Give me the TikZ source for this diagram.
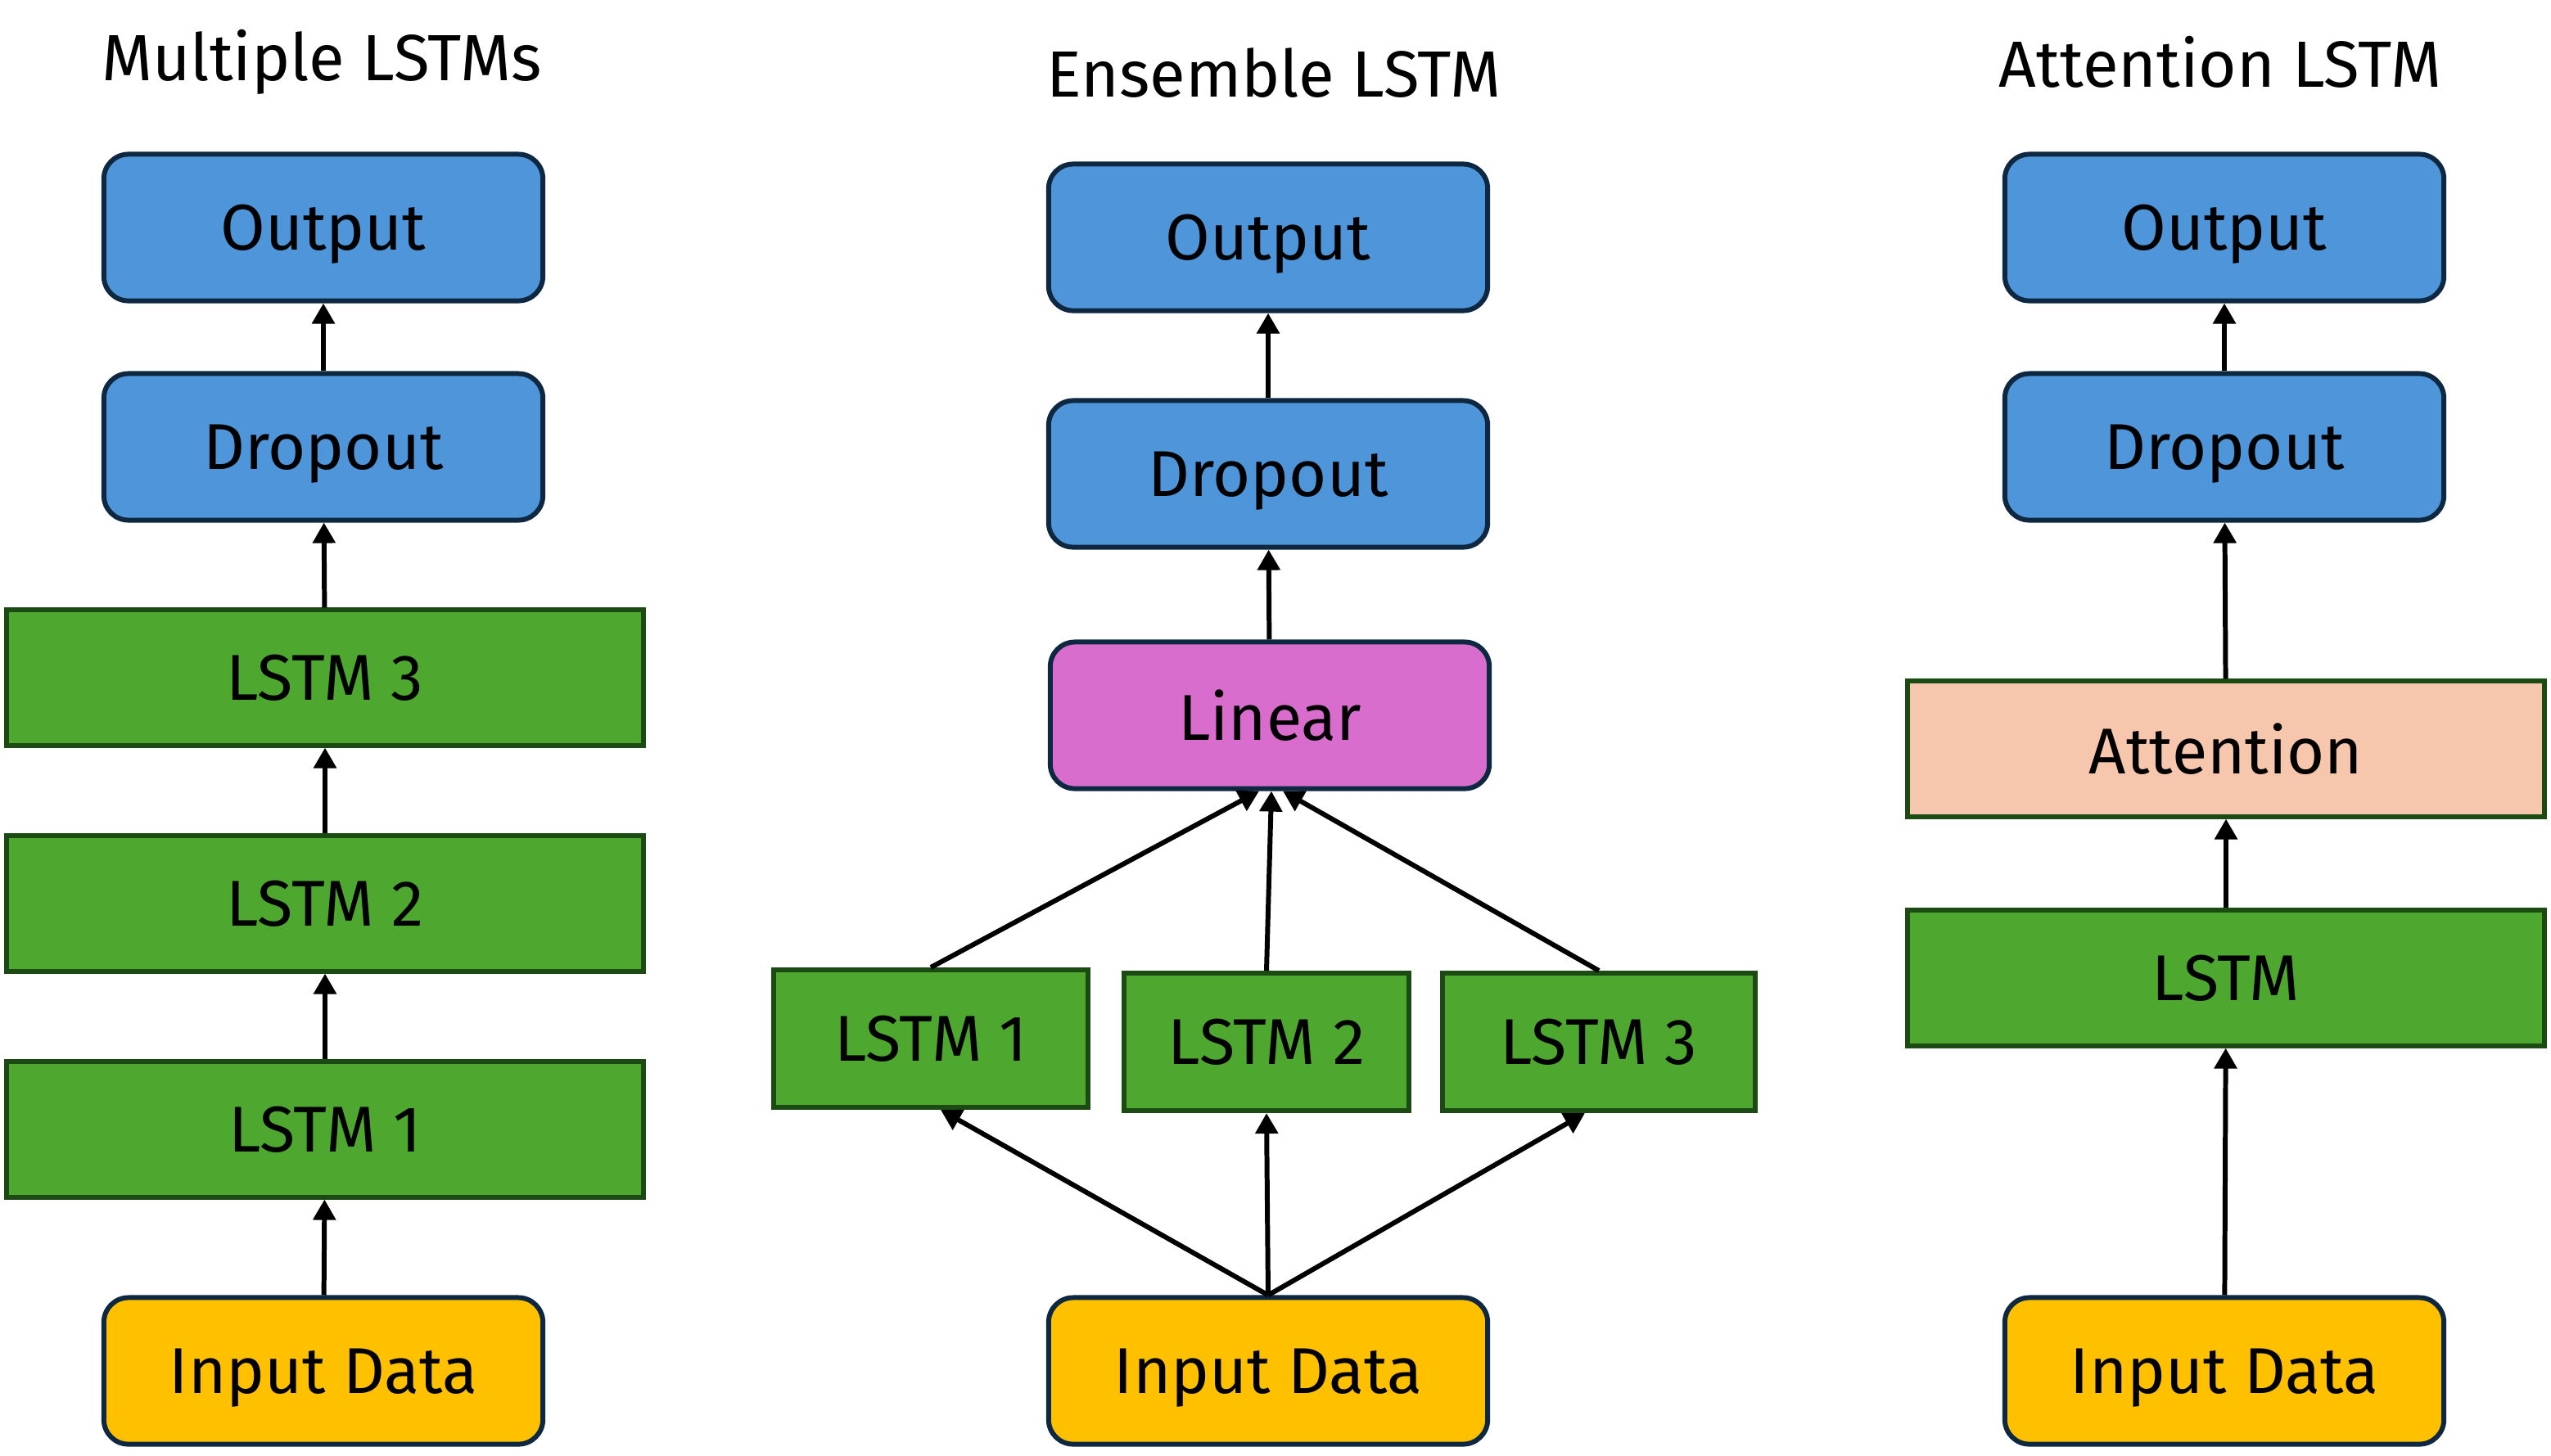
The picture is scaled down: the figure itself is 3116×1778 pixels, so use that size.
\documentclass[tikz,border=0pt]{standalone}
\usepackage{fontspec}
\setmainfont{Fira Sans}
\usetikzlibrary{arrows.meta,calc}
\definecolor{cblue}{HTML}{4E95D9}
\definecolor{cgreen}{HTML}{4EA72E}
\definecolor{cpink}{HTML}{D86DCD}
\definecolor{cyellow}{HTML}{FFC000}
\definecolor{cpeach}{HTML}{F6C6AD}
\definecolor{navyb}{HTML}{0E2841}
\definecolor{greenb}{HTML}{1B4A12}
\tikzset{
  rbox/.style={draw=navyb, line width=1.7pt, rounded corners=0.3cm, minimum width=5.36cm, minimum height=1.79cm, font=\fontsize{22.5}{27}\selectfont, inner sep=0pt, text depth=0pt},
  sbox/.style={draw=greenb, line width=1.7pt, minimum width=7.78cm, minimum height=1.65cm, font=\fontsize{22.5}{27}\selectfont, inner sep=0pt},
  ttl/.style={font=\fontsize{22.7}{27}\selectfont, inner sep=0pt},
  arr/.style={-{Triangle[length=0.25cm,width=0.27cm]}, line width=1.7pt, black},
}
\begin{document}
\begin{tikzpicture}[x=0.01cm,y=-0.01cm]
\useasboundingbox[fill=white] (0,0) rectangle (3116,1778);
% Left column
\node[ttl] (t1) at (393,76) {Multiple LSTMs};
\node[rbox, fill=cblue] (o1) at (395,278) {Output};
\node[rbox, fill=cblue] (d1) at (395,546) {Dropout};
\node[sbox, fill=cgreen] (l13) at (397,828) {LSTM 3};
\node[sbox, fill=cgreen] (l12) at (397,1104) {LSTM 2};
\node[sbox, fill=cgreen] (l11) at (397,1380) {LSTM 1};
\node[rbox, fill=cyellow] (i1) at (395,1675) {Input Data};
\draw[arr] (i1) -- (l11);
\draw[arr] (l11) -- (l12);
\draw[arr] (l12) -- (l13);
\draw[arr] (l13) -- (d1);
\draw[arr] (d1) -- (o1);
% Middle column
\node[ttl] (t2) at (1556,89) {Ensemble LSTM};
\node[rbox, fill=cblue] (o2) at (1549,290) {Output};
\node[rbox, fill=cblue] (d2) at (1549,579) {Dropout};
\node[rbox, fill=cpink] (lin) at (1551,874) {Linear};
\node[sbox, fill=cgreen, minimum width=3.83cm, minimum height=1.68cm] (e1) at (1137,1269) {LSTM 1};
\node[sbox, fill=cgreen, minimum width=3.48cm, minimum height=1.68cm] (e2) at (1547,1273) {LSTM 2};
\node[sbox, fill=cgreen, minimum width=3.82cm, minimum height=1.68cm] (e3) at (1953,1273) {LSTM 3};
\node[rbox, fill=cyellow] (i2) at (1549,1675) {Input Data};
\draw[arr] (i2.north) -- ($(e1.south)+(12,0)$);
\draw[arr] (i2.north) -- (e2.south);
\draw[arr] (i2.north) -- ($(e3.south)+(-17,0)$);
\draw[arr] (e1.north) -- ($(lin.south)+(-13,0)$);
\draw[arr] (e2.north) -- ($(lin.south)+(2,0)$);
\draw[arr] (e3.north) -- ($(lin.south)+(16,0)$);
\draw[arr] (lin) -- (d2);
\draw[arr] (d2) -- (o2);
% Right column
\node[ttl] (t3) at (2712,76) {Attention LSTM};
\node[rbox, fill=cblue] (o3) at (2717,278) {Output};
\node[rbox, fill=cblue] (d3) at (2717,546) {Dropout};
\node[sbox, fill=cpeach] (att) at (2719,915) {Attention};
\node[sbox, fill=cgreen] (ls) at (2719,1195) {LSTM};
\node[rbox, fill=cyellow] (i3) at (2717,1675) {Input Data};
\draw[arr] (i3) -- (ls);
\draw[arr] (ls) -- (att);
\draw[arr] (att) -- (d3);
\draw[arr] (d3) -- (o3);
\end{tikzpicture}
\end{document}
